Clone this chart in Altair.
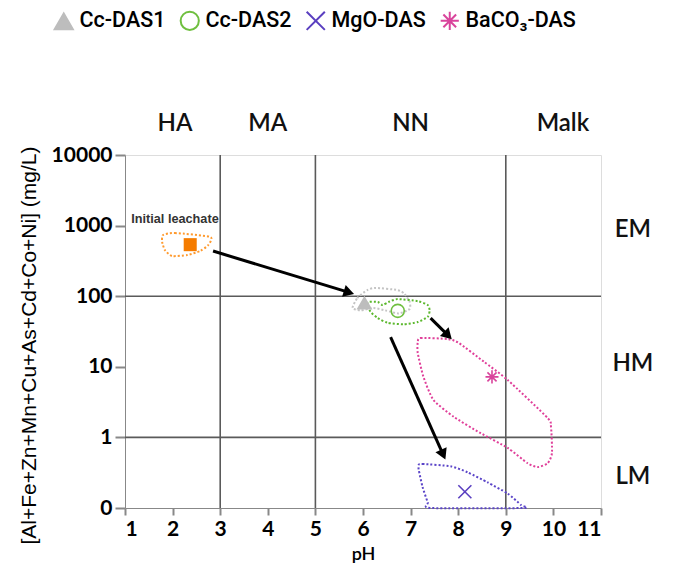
import math
import altair as alt
import pandas as pd

# ---------------- data ----------------
series = ["Cc-DAS1", "Cc-DAS2", "MgO-DAS", "BaCO₃-DAS"]
series_ph = [6.03, 6.73, 8.14, 8.71]
series_conc = [80, 62, 0.17, 7.2]
series_shapes = ["triangle-up", "circle",
                 "M-1,-1L1,1M1,-1L-1,1",
                 "M0,-1L0,1M-1,0L1,0M-0.7,-0.7L0.7,0.7M-0.7,0.7L0.7,-0.7"]
series_stroke = ["#bdbdbd", "#6fbf3f", "#5a3fc0", "#d9449c"]
series_fill = ["#bdbdbd", "transparent", "transparent", "transparent"]

initial_ph = [2.37]
initial_conc = [537]
initial_label = ["Initial leachate"]
initial_label_ph = [2.05]
initial_label_conc = [1230]

orange_ph = [1.80, 2.05, 2.79, 2.75, 2.58, 2.31, 1.99, 1.84, 1.78]
orange_c = [736, 785, 692, 531, 437, 383, 371, 448, 588]

gray_ph = [5.78, 5.88, 6.09, 6.26, 6.73, 6.87, 6.98, 6.98, 6.75, 6.47, 6.22, 5.95]
gray_c = [68, 94, 122, 131, 122, 108, 83, 66, 57, 63, 68, 63]

green_ph = [6.12, 6.31, 6.41, 6.54, 6.73, 7.15, 7.36, 7.40, 7.36, 7.15, 6.85, 6.52, 6.31, 6.16, 6.09]
green_c = [83, 83, 75, 83, 91, 85, 75, 63, 51, 43, 40, 42, 49, 60, 75]

magenta_ph = [7.15, 7.21, 7.78, 8.01, 8.54, 9.04, 9.88, 9.95, 9.97, 9.88, 9.67, 9.46, 9.04, 8.47, 7.91, 7.48, 7.27, 7.15]
magenta_c = [22.4, 25.6, 24.7, 21.8, 11.8, 6.5, 1.88, 1.40, 0.60, 0.43, 0.38, 0.43, 0.71, 1.15, 1.95, 3.39, 7.2, 15.7]

blue_ph = [7.17, 7.25, 7.84, 8.2, 8.62, 9.04, 9.32, 9.36, 7.42, 7.36, 7.25, 7.17]
blue_c = [0.41, 0.42, 0.39, 0.32, 0.23, 0.16, 0.11, 0.1, 0.10, 0.12, 0.20, 0.35]

outline_colors = {"orange": "#ff9a2e", "gray": "#c4c4c4", "green": "#5cb82e",
                  "magenta": "#e0409a", "blue": "#5b45c8"}

arrow_start_ph = [2.85, 7.42, 6.58]
arrow_start_c = [436, 49, 26.3]
arrow_end_ph = [5.67, 7.76, 7.67]
arrow_end_c = [115, 29, 0.60]

grid_ph = [3, 5, 9]
grid_conc = [1, 100]

top_labels = ["HA", "MA", "NN", "Malk"]
top_ph = [2.05, 4.0, 7.0, 10.2]
top_conc = [27500, 27500, 27500, 27500]

right_labels = ["EM", "HM", "LM"]
right_ph = [11.67, 11.67, 11.67]
right_conc = [870, 11, 0.275]

y_ticks = [0.1, 1, 10, 100, 1000, 10000]
x_ticks = list(range(1, 12))

# ---------------- layout ----------------
W, H = 476, 353
FONT = "Lato"

def px(ph):
    return (ph - 1) / 10 * W

def py(c):
    return (4 - math.log10(c)) / 5 * H

# ---------------- frames ----------------
rows = []
for name, phs, cs in [("orange", orange_ph, orange_c), ("gray", gray_ph, gray_c),
                      ("green", green_ph, green_c), ("magenta", magenta_ph, magenta_c),
                      ("blue", blue_ph, blue_c)]:
    for i, (a, b) in enumerate(zip(phs, cs)):
        rows.append({"region": name, "ph": a, "conc": b, "ord": i,
                     "col": outline_colors[name]})
outline_df = pd.DataFrame(rows)

arrow_rows = []
for a, b, c, d in zip(arrow_start_ph, arrow_start_c, arrow_end_ph, arrow_end_c):
    dx = px(c) - px(a)
    dy = py(d) - py(b)
    ang = math.degrees(math.atan2(dx, -dy)) % 360
    arrow_rows.append({"ph": a, "conc": b, "ph2": c, "conc2": d, "angle": ang})
arrow_df = pd.DataFrame(arrow_rows)

marker_df = pd.DataFrame({"series": series, "ph": series_ph, "conc": series_conc})
init_df = pd.DataFrame({"ph": initial_ph, "conc": initial_conc})
init_lab_df = pd.DataFrame({"ph": initial_label_ph, "conc": initial_label_conc, "t": initial_label})
vgrid_df = pd.DataFrame({"ph": grid_ph})
hgrid_df = pd.DataFrame({"conc": grid_conc})
top_df = pd.DataFrame({"t": top_labels, "ph": top_ph, "conc": top_conc})
right_df = pd.DataFrame({"t": right_labels, "ph": right_ph, "conc": right_conc})

xscale = alt.Scale(domain=[1, 11], nice=False, zero=False)
yscale = alt.Scale(type="log", domain=[0.1, 10000], nice=False)

X = alt.X("ph:Q", scale=xscale, axis=alt.Axis(
    title="pH", values=x_ticks, grid=False, tickSize=7, tickWidth=2,
    labelFont=FONT, labelFontSize=21, labelFontWeight="bold", labelColor="black",
    labelPadding=3, titleFont=FONT, titleFontSize=18, titleFontWeight=600,
    titleColor="black", titleY=37, titleBaseline="top"))
Y = alt.Y("conc:Q", scale=yscale, axis=alt.Axis(
    title="[Al+Fe+Zn+Mn+Cu+As+Cd+Co+Ni] (mg/L)", values=y_ticks, grid=False,
    tickSize=10, tickWidth=2,
    labelExpr="datum.value < 0.5 ? '0' : format(datum.value, 'd')",
    labelFont=FONT, labelFontSize=21, labelFontWeight="bold", labelColor="black",
    labelPadding=3, titleFont="Liberation Sans", titleFontSize=21, titleFontWeight="normal",
    titleColor="black", titleX=-86, titleY=190, titleBaseline="bottom"))

vgrid = alt.Chart(vgrid_df).mark_rule(color="#5a5a5a", strokeWidth=1.6).encode(x=X)
hgrid = alt.Chart(hgrid_df).mark_rule(color="#5a5a5a", strokeWidth=1.6).encode(y=Y)

outlines = alt.Chart(outline_df).mark_line(
    interpolate="cardinal-closed", tension=0.4, strokeDash=[2, 2], strokeWidth=2
).encode(x=X, y=Y, detail="region:N", order="ord:Q",
         color=alt.Color("col:N", scale=None))

arrows = alt.Chart(arrow_df).mark_rule(color="black", strokeWidth=3).encode(
    x=X, y=Y, x2="ph2:Q", y2="conc2:Q")
heads = alt.Chart(arrow_df).mark_point(
    shape="triangle", filled=True, color="black", size=150, opacity=1
).encode(x=alt.X("ph2:Q", scale=xscale), y=alt.Y("conc2:Q", scale=yscale),
         angle=alt.Angle("angle:Q", scale=None))

init_pt = alt.Chart(init_df).mark_point(
    shape="square", filled=True, color="#f57c00", size=170, opacity=1
).encode(x=X, y=Y)
init_lab = alt.Chart(init_lab_df).mark_text(
    font="Liberation Sans", fontSize=12.7, fontWeight="bold", color="#333333"
).encode(x=X, y=Y, text="t:N")

leg = alt.Legend(orient="none", legendX=-72, legendY=-145, direction="horizontal",
                 title=None, labelFont="Roboto", labelFontSize=21.5, labelFontWeight=500,
                 labelColor="black", symbolSize=330, symbolStrokeWidth=2,
                 labelOffset=5, columnPadding=10, labelLimit=300)
markers = alt.Chart(marker_df).mark_point(size=170, strokeWidth=1.6, opacity=1).encode(
    x=X, y=Y,
    shape=alt.Shape("series:N", scale=alt.Scale(domain=series, range=series_shapes), legend=leg),
    stroke=alt.Stroke("series:N", scale=alt.Scale(domain=series, range=series_stroke), legend=leg),
    fill=alt.Fill("series:N", scale=alt.Scale(domain=series, range=series_fill), legend=leg),
)

top = alt.Chart(top_df).mark_text(font=FONT, fontSize=24, fontWeight=600, color="#111111").encode(
    x=X, y=Y, text="t:N")
right = alt.Chart(right_df).mark_text(font=FONT, fontSize=24, fontWeight=600, color="#111111").encode(
    x=X, y=Y, text="t:N")

chart = alt.layer(
    vgrid, hgrid, outlines, arrows, heads, init_pt, init_lab, markers, top, right
).properties(
    width=W, height=H,
    padding={"left": 117, "top": 147, "right": 58, "bottom": 55},
    autosize=alt.AutoSizeParams(type="none"),
).configure_view(
    stroke="black", strokeWidth=2.5
).configure_axis(
    domainColor="black", domainWidth=2.5, tickColor="black"
).configure(background="white")

chart.save("out.html", embed_options={"renderer": "svg", "actions": False})
